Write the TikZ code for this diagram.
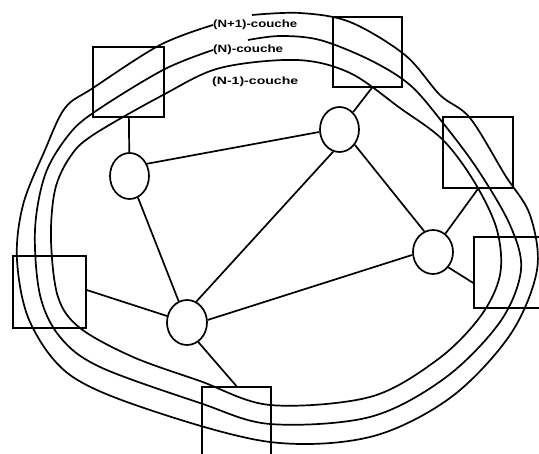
\documentclass[tikz,border=0pt]{standalone}
\usepackage{fontspec}
\setmainfont{Liberation Sans}
\usetikzlibrary{shapes.geometric}
\begin{document}
\begin{tikzpicture}[x=1pt,y=-1pt,
  boxnode/.style={draw, rectangle, line width=1.7pt, inner sep=0pt},
  station/.style={draw, ellipse, line width=1.7pt, inner sep=0pt},
  link/.style={line width=1.7pt},
  layer/.style={line width=1.7pt, line join=round},
  lbl/.style={inner sep=0pt, anchor=west, font=\fontsize{10.5}{12}\selectfont\bfseries}]
\useasboundingbox (0,0) rectangle (539,454);
\clip (0,0) rectangle (539,454);
% boxes
\node[boxnode, minimum width=71pt, minimum height=70pt] (tl) at (128.5,82) {};
\node[boxnode, minimum width=69pt, minimum height=70pt] (tb) at (367.5,52) {};
\node[boxnode, minimum width=70pt, minimum height=71pt] (rb) at (478,152.5) {};
\node[boxnode, minimum width=71pt, minimum height=71pt] (fr) at (509.5,272.5) {};
\node[boxnode, minimum width=73pt, minimum height=72pt] (lb) at (49.5,292) {};
\node[boxnode, minimum width=69pt, minimum height=71pt] (bb) at (236.5,422.5) {};
% stations
\node[station, minimum width=39pt, minimum height=46pt] (c1) at (129.5,176) {};
\node[station, minimum width=39pt, minimum height=45pt] (c2) at (339.5,129.5) {};
\node[station, minimum width=40pt, minimum height=44pt] (c3) at (433,252) {};
\node[station, minimum width=40pt, minimum height=45pt] (c4) at (187,322.5) {};
% labels
\node[lbl] (l1) at (213,25) {\resizebox{84pt}{\height}{(N+1)-couche}};
\node[lbl] (l2) at (213,50) {\resizebox{70pt}{\height}{(N)-couche}};
\node[lbl] (l3) at (212,82) {\resizebox{86pt}{\height}{(N-1)-couche}};
% links
\draw[link] (tl) -- (c1);
\draw[link] (c1.35) -- (c2.187);
\draw[link] (c1) -- (c4);
\draw[link] (c2.52) -- (tb.-83);
\draw[link] (c2.254) -- (c4.66);
\draw[link] (c2.-45) -- (c3.113);
\draw[link] (rb.south) -- (c3.56);
\draw[link] (c3.-45) -- (fr.196);
\draw[link] (c3.188) -- (c4.7);
\draw[link] (lb.3) -- (c4.162);
\draw[link] (c4.-60) -- (bb.north);
% layers
\draw[layer] plot[smooth, tension=0.55] coordinates {(l1.west) (160,45) (93,88) (65,108) (45,150) (23,205) (17,260) (30,322) (70,375) (150,410) (270,442) (370,437) (450,398) (510,335) (537,270) (530,215) (505,175) (470,118) (440,95) (405,55) (350,22) (300,13) (252,15)};
\draw[layer] plot[smooth, tension=0.55] coordinates {(l2.west) (163,70) (93,113) (67,137) (45,175) (35,230) (40,295) (60,337) (100,367) (200,403) (270,424) (370,417) (445,378) (500,322) (521,270) (510,225) (478,170) (443,123) (410,85) (370,60) (320,40) (280,36) (248,40)};
\draw[layer] plot[smooth cycle, tension=0.55] coordinates {(297,60) (350,73) (400,108) (443,140) (475,183) (497,230) (500,275) (480,317) (437,360) (370,397) (270,405) (200,381) (133,357) (80,328) (58,297) (51,240) (55,190) (70,157) (93,135) (163,95) (220,68)};
\end{tikzpicture}
\end{document}
